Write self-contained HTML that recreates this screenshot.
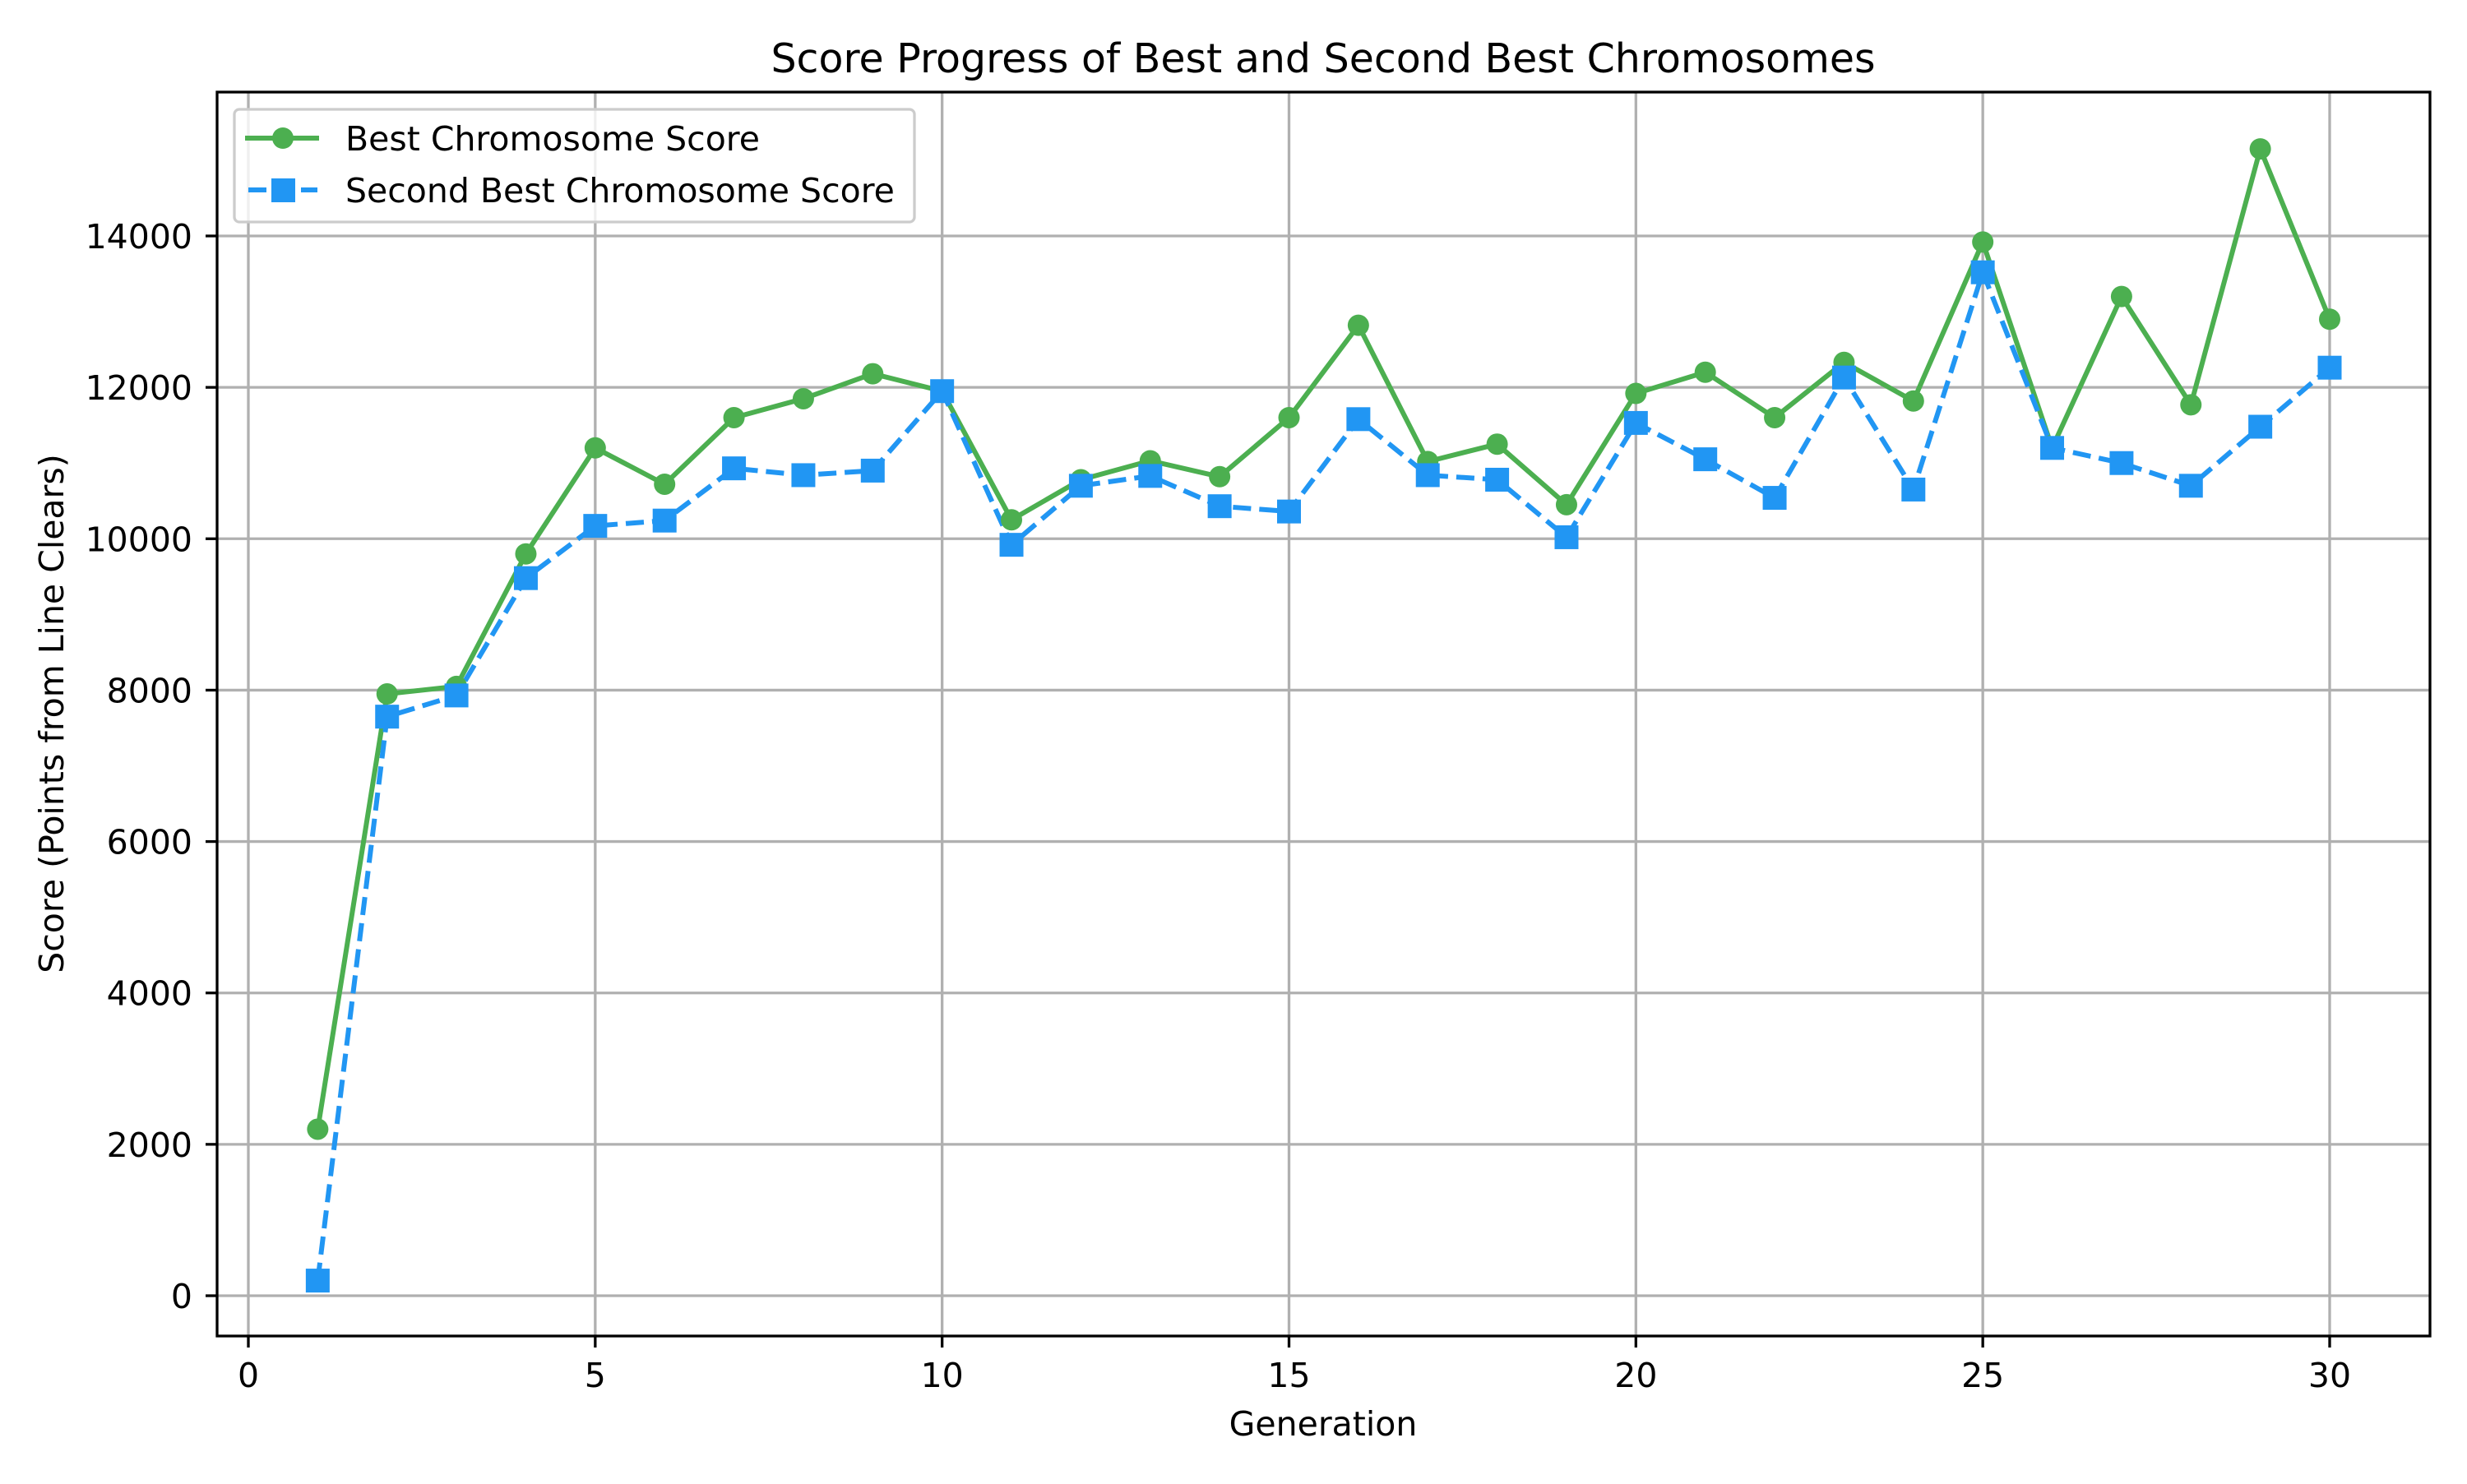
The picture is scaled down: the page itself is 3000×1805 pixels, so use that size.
<!DOCTYPE html>
<html><head><meta charset="utf-8"><style>
body{margin:0;background:#fff}
svg text{font-family:"DejaVu Sans","Liberation Sans",sans-serif;fill:#000}
</style></head><body>
<svg id="chart" width="3000" height="1800" viewBox="0 0 3000 1800" xmlns="http://www.w3.org/2000/svg">
<rect width="3000" height="1800" fill="#fff"/>
<text x="1609" y="88" font-size="49" text-anchor="middle">Score Progress of Best and Second Best Chromosomes</text>
<g id="grid"></g>
<g id="series"></g>
<rect x="264" y="112" width="2691" height="1513" fill="none" stroke="#000" stroke-width="3.3"/>
<g id="ticks"></g>
<text x="1609" y="1746" font-size="41" text-anchor="middle">Generation</text>
<text transform="translate(77,868) rotate(-90)" font-size="41" text-anchor="middle">Score (Points from Line Clears)</text>
<g>
<rect x="285" y="133" width="827" height="137" rx="6" fill="#fff" fill-opacity="0.8" stroke="#ccc" stroke-width="3.3"/>
<line x1="298" y1="168" x2="388" y2="168" stroke="#4caf50" stroke-width="6"/>
<circle cx="344" cy="168" r="13" fill="#4caf50"/>
<text x="420" y="183" font-size="41">Best Chromosome Score</text>
<line x1="302" y1="231" x2="386" y2="231" stroke="#2196f3" stroke-width="6" stroke-dasharray="22,10"/>
<rect x="330" y="217" width="29" height="29" fill="#2196f3"/>
<text x="420" y="246" font-size="41">Second Best Chromosome Score</text>
</g>
</svg>
<script>
const generations=[1,2,3,4,5,6,7,8,9,10,11,12,13,14,15,16,17,18,19,20,21,22,23,24,25,26,27,28,29,30];
const bestScores=[2200,7950,8050,9800,11200,10720,11600,11850,12180,11950,10250,10780,11030,10820,11600,12820,11020,11250,10450,11920,12200,11600,12330,11820,13920,11200,13200,11770,15150,12900];
const secondScores=[200,7650,7930,9480,10170,10240,10930,10840,10900,11950,9920,10700,10830,10430,10360,11580,10840,10780,10020,11530,11050,10540,12130,10650,13520,11200,11000,10700,11480,12260];
const xTicks=[0,5,10,15,20,25,30];
const yTicks=[0,2000,4000,6000,8000,10000,12000,14000];
const NS="http://www.w3.org/2000/svg";
function xs(v){return 302+v*(2833-302)/30;}
function ys(v){return 1576-v*(1576-287)/14000;}
function mk(tag,attrs,parent){const e=document.createElementNS(NS,tag);for(const k in attrs)e.setAttribute(k,attrs[k]);parent.appendChild(e);return e;}
const grid=document.getElementById('grid'),ticks=document.getElementById('ticks'),series=document.getElementById('series');
xTicks.forEach(t=>{const x=xs(t);
 const g=mk('line',{x1:x,y1:112,x2:x,y2:1625,stroke:'#b0b0b0','stroke-width':3.3},grid);
 
 
 mk('line',{x1:x,y1:1625,x2:x,y2:1639,stroke:'#000','stroke-width':3.3},ticks);
 const tx=mk('text',{x:x,y:1687,'font-size':41,'text-anchor':'middle'},ticks);tx.textContent=t;
 
 
});
yTicks.forEach(t=>{const y=ys(t);
 const g=mk('line',{x1:264,y1:y,x2:2955,y2:y,stroke:'#b0b0b0','stroke-width':3.3},grid);
 
 
 mk('line',{x1:250,y1:y,x2:264,y2:y,stroke:'#000','stroke-width':3.3},ticks);
 const tx=mk('text',{x:234,y:y+15,'font-size':41,'text-anchor':'end'},ticks);tx.textContent=t;
 
 
});
const p1=generations.map((g,i)=>xs(g)+','+ys(bestScores[i])).join(' ');
const l1=mk('polyline',{points:p1,fill:'none',stroke:'#4caf50','stroke-width':6,'stroke-linejoin':'round'},series);


const p2=generations.map((g,i)=>xs(g)+','+ys(secondScores[i])).join(' ');
const l2=mk('polyline',{points:p2,fill:'none',stroke:'#2196f3','stroke-width':6,'stroke-dasharray':'22,10'},series);


generations.forEach((g,i)=>{
 const c=mk('circle',{cx:xs(g),cy:ys(bestScores[i]),r:13,fill:'#4caf50'},series);
 
 
 const r=mk('rect',{x:xs(g)-14.5,y:ys(secondScores[i])-14.5,width:29,height:29,fill:'#2196f3'},series);
 
 
});
</script>
</body></html>
